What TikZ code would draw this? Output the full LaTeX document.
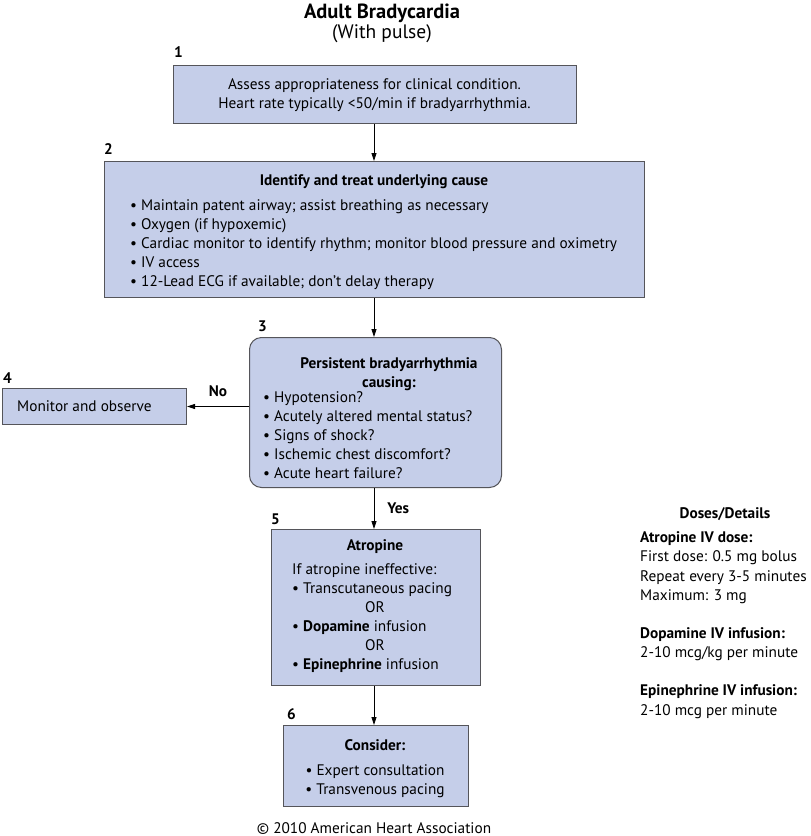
\documentclass[tikz,border=0pt]{standalone}
\usepackage{fontspec}
\setmainfont{PT Sans}
\usetikzlibrary{arrows.meta}
\definecolor{boxfill}{RGB}{197,206,233}
\definecolor{boxline}{RGB}{85,85,90}
\begin{document}
\begin{tikzpicture}[x=1pt,y=-1pt,
  box/.style={draw=boxline, fill=boxfill, line width=1pt, inner sep=0, anchor=north west},
  fs/.style={font=\fontsize{15.3}{19}\selectfont},
  txt/.style={fs, inner sep=0, anchor=mid west, yshift=-2.5pt},
  ctxt/.style={fs, inner sep=0, anchor=mid, yshift=-2.5pt},
  btxt/.style={font=\bfseries\fontsize{15.3}{19}\selectfont, inner sep=0, anchor=mid, yshift=-2.5pt},
  num/.style={font=\bfseries\fontsize{15.3}{19}\selectfont, inner sep=0, anchor=mid west, yshift=-2.5pt},
  lbl/.style={font=\bfseries\fontsize{15.3}{19}\selectfont, inner sep=0},
  arr/.style={draw=black, line width=0.8pt, -{Triangle[length=8pt,width=5pt]}}
]
\useasboundingbox[fill=white] (0,0) rectangle (811,836);

% title
\node[font=\bfseries\fontsize{20.5}{22}\selectfont, inner sep=0] (title) at (382,13) {Adult Bradycardia};
\node[font=\fontsize{19.5}{22}\selectfont, inner sep=0] (subtitle) at (382,34) {(With pulse)};

% box 1
\node[num] (n1) at (174,52) {1};
\node[box, minimum width=403pt, minimum height=58pt] (b1) at (173,65) {};
\node[fs, inner sep=0, align=center, anchor=center] (t1) at (374.5,95) {Assess appropriateness for clinical condition.\\Heart rate typically <50/min if bradyarrhythmia.};

% box 2
\node[num] (n2) at (104,149) {2};
\node[box, minimum width=540pt, minimum height=136pt] (b2) at (104,161) {};
\node[btxt] (t2h) at (374,180) {Identify and treat underlying cause};
\node[txt] (t2a) at (130,205) {\textbullet\ Maintain patent airway; assist breathing as necessary};
\node[txt] (t2b) at (130,224) {\textbullet\ Oxygen (if hypoxemic)};
\node[txt] (t2c) at (130,243) {\textbullet\ Cardiac monitor to identify rhythm; monitor blood pressure and oximetry};
\node[txt] (t2d) at (130,262) {\textbullet\ IV access};
\node[txt] (t2e) at (130,281) {\textbullet\ 12-Lead ECG if available; don’t delay therapy};

% box 3
\node[num] (n3) at (258,326) {3};
\node[box, rounded corners=12pt, minimum width=252pt, minimum height=150pt] (b3) at (249,337) {};
\node[btxt] (t3h1) at (389,363) {Persistent bradyarrhythmia};
\node[btxt] (t3h2) at (389,382) {causing:};
\node[txt] (t3a) at (263,397) {\textbullet\ Hypotension?};
\node[txt] (t3b) at (263,416) {\textbullet\ Acutely altered mental status?};
\node[txt] (t3c) at (263,435) {\textbullet\ Signs of shock?};
\node[txt] (t3d) at (263,454) {\textbullet\ Ischemic chest discomfort?};
\node[txt] (t3e) at (263,473) {\textbullet\ Acute heart failure?};

% box 4
\node[num] (n4) at (3,378) {4};
\node[box, minimum width=184pt, minimum height=36pt] (b4) at (2,388) {};
\node[txt] (t4) at (17,406) {Monitor and observe};

% box 5
\node[num] (n5) at (271,519) {5};
\node[box, minimum width=209pt, minimum height=156pt] (b5) at (271,529) {};
\node[btxt] (t5h) at (375,545) {Atropine};
\node[txt] (t5a) at (292,569) {If atropine ineffective:};
\node[txt] (t5b) at (292,588) {\textbullet\ Transcutaneous pacing};
\node[ctxt] (t5c) at (375,607) {OR};
\node[txt] (t5d) at (292,626) {\textbullet\ \textbf{Dopamine} infusion};
\node[ctxt] (t5e) at (375,645) {OR};
\node[txt] (t5f) at (292,664) {\textbullet\ \textbf{Epinephrine} infusion};

% box 6
\node[num] (n6) at (287,714) {6};
\node[box, minimum width=185pt, minimum height=81pt] (b6) at (283,725) {};
\node[btxt] (t6h) at (375,745) {Consider:};
\node[ctxt] (t6a) at (375,770) {\textbullet\ Expert consultation};
\node[ctxt] (t6b) at (375,789) {\textbullet\ Transvenous pacing};

% doses
\node[btxt] (dh) at (725,513) {Doses/Details};
\node[num] (d1) at (640,537) {Atropine IV dose:};
\node[txt] (d2) at (640,556) {First dose: 0.5 mg bolus};
\node[txt] (d3) at (640,576) {Repeat every 3-5 minutes};
\node[txt] (d4) at (640,595) {Maximum: 3 mg};
\node[num] (d5) at (640,633) {Dopamine IV infusion:};
\node[txt] (d6) at (640,652) {2-10 mcg/kg per minute};
\node[num] (d7) at (640,690) {Epinephrine IV infusion:};
\node[txt] (d8) at (640,710) {2-10 mcg per minute};

% copyright
\node[ctxt] (copy) at (374,828) {© 2010 American Heart Association};

% connectors
\coordinate (c3) at (374,487);
\draw[arr] (b1.south -| c3) -- (b2.north -| c3);
\draw[arr] (b2.south -| c3) -- (b3.north -| c3);
\draw[arr] (b4.east -| b3.west) -- (b4.east) node[pos=0.5, above=9pt, lbl] (no) {No};
\draw[arr] (b3.south -| c3) -- (b5.north -| c3) node[pos=0.5, right=13pt, lbl] (yes) {Yes};
\draw[arr] (b5.south -| c3) -- (b6.north -| c3);
\end{tikzpicture}
\end{document}
